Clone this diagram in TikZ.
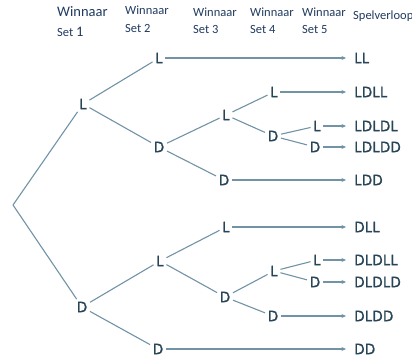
\documentclass[tikz,border=0pt]{standalone}
\usepackage{fontspec}
\setmainfont{Open Sans}
\newfontfamily\treefont[FakeBold=1.5]{Open Sans}
\newfontfamily\hdrfont{Carlito}
\usetikzlibrary{arrows.meta}
\definecolor{lettc}{HTML}{284557}
\definecolor{linec}{HTML}{7292A6}
\definecolor{hdrc}{HTML}{1F3A5F}
\begin{document}
\begin{tikzpicture}[x=1pt,y=-1pt,
 tn/.style={text=lettc,font=\treefont\fontsize{14.5}{14.5}\selectfont,inner sep=2.5pt,text height=10.3pt,text depth=0pt},
 outn/.style={text=lettc,font=\treefont\fontsize{14.5}{14.5}\selectfont,anchor=west,inner sep=1pt,text height=10.3pt,text depth=0pt},
 br/.style={draw=linec,line width=1.1pt},
 arr/.style={draw=linec,line width=1.1pt,-{Stealth[length=4.5pt,width=4pt]},shorten >=7pt},
 hd/.style={text=hdrc,font=\hdrfont\fontsize{12.5}{12.5}\selectfont,anchor=west,inner sep=0pt}]
\useasboundingbox (0,0) rectangle (412,359);
% headers
\node[hd,font=\hdrfont\fontsize{14.5}{14.5}\selectfont] (h1a) at (57,12) {Winnaar};
\node[hd] (h1b) at (57,32) {Set {\fontsize{14.5}{14.5}\selectfont 1}};
\node[hd] (h2a) at (125,10) {Winnaar};
\node[hd] (h2b) at (125,28) {Set 2};
\node[hd] (h3a) at (193,12) {Winnaar};
\node[hd] (h3b) at (193,29) {Set 3};
\node[hd] (h4a) at (250,12) {Winnaar};
\node[hd] (h4b) at (250,29) {Set 4};
\node[hd] (h5a) at (302,12) {Winnaar};
\node[hd] (h5b) at (302,29) {Set 5};
\node[hd] (h6) at (353,16) {Spelverloop};
% tree
\coordinate (r) at (13,205);
\node[tn] (a) at (83,104) {L};
\node[tn] (b) at (82,307) {D};
\node[tn] (aL) at (159,58) {L};
\node[tn] (aD) at (159,147) {D};
\node[tn] (bL) at (160,261) {L};
\node[tn] (bD) at (158,349) {D};
\node[tn] (aDL) at (226,115) {L};
\node[tn] (aDD) at (224,180) {D};
\node[tn] (bLL) at (226,227) {L};
\node[tn] (bLD) at (225,297) {D};
\node[tn] (aDLL) at (274,92) {L};
\node[tn] (aDLD) at (273,136) {D};
\node[tn] (bLDL) at (274,271) {L};
\node[tn] (bLDD) at (273,316) {D};
\node[tn] (aDLDL) at (317,126) {L};
\node[tn] (aDLDD) at (315,147) {D};
\node[tn] (bLDLL) at (317,260) {L};
\node[tn] (bLDLD) at (315,282) {D};
% outcomes
\node[outn] (o1) at (353,58) {LL};
\node[outn] (o2) at (353,92) {LDLL};
\node[outn] (o3) at (353,126) {LDLDL};
\node[outn] (o4) at (353,147) {LDLDD};
\node[outn] (o5) at (353,180) {LDD};
\node[outn] (o6) at (353,227) {DLL};
\node[outn] (o7) at (353,260) {DLDLL};
\node[outn] (o8) at (353,282) {DLDLD};
\node[outn] (o9) at (353,316) {DLDD};
\node[outn] (o10) at (353,349) {DD};
% branches
\draw[br] (r) -- (a);
\draw[br] (r) -- (b);
\draw[br] (a) -- (aL);
\draw[br] (a) -- (aD);
\draw[br] (b) -- (bL);
\draw[br] (b) -- (bD);
\draw[br] (aD) -- (aDL);
\draw[br] (aD) -- (aDD);
\draw[br] (bL) -- (bLL);
\draw[br] (bL) -- (bLD);
\draw[br] (aDL) -- (aDLL);
\draw[br] (aDL) -- (aDLD);
\draw[br] (bLD) -- (bLDL);
\draw[br] (bLD) -- (bLDD);
\draw[br] (aDLD) -- (aDLDL);
\draw[br] (aDLD) -- (aDLDD);
\draw[br] (bLDL) -- (bLDLL);
\draw[br] (bLDL) -- (bLDLD);
% arrows
\draw[arr] (aL) -- (o1);
\draw[arr] (aDLL) -- (o2);
\draw[arr] (aDLDL) -- (o3);
\draw[arr] (aDLDD) -- (o4);
\draw[arr] (aDD) -- (o5);
\draw[arr] (bLL) -- (o6);
\draw[arr] (bLDLL) -- (o7);
\draw[arr] (bLDLD) -- (o8);
\draw[arr] (bLDD) -- (o9);
\draw[arr] (bD) -- (o10);
\end{tikzpicture}
\end{document}
